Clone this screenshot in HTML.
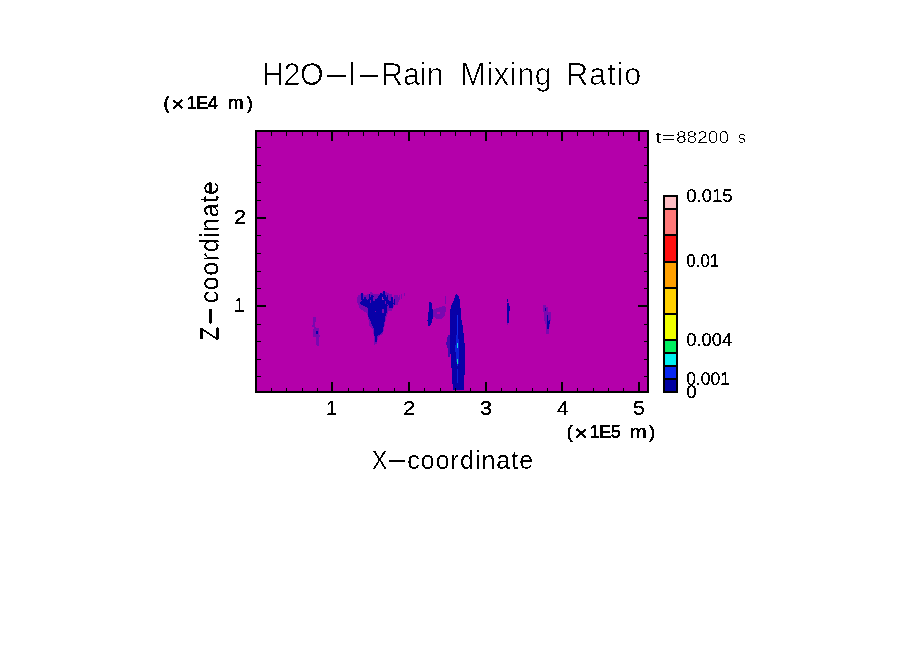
<!DOCTYPE html>
<html lang="en"><head><meta charset="utf-8"><title>H2O-l-Rain Mixing Ratio</title>
<style>
html,body{margin:0;padding:0;background:#fff;}
body{width:904px;height:654px;overflow:hidden;}
svg{display:block;}
text{font-family:"Liberation Sans",sans-serif;fill:#000;}
.thin{font-weight:400;stroke:#fff;stroke-width:0.45px;}
.t23{font-weight:400;stroke:#fff;stroke-width:0.12px;}
.t16{font-weight:400;stroke:#fff;stroke-width:0.25px;}
.hv{font-weight:400;stroke:#000;stroke-width:0.2px;}
.hv2{font-weight:400;stroke:#000;stroke-width:0.55px;}
</style></head><body>
<svg width="904" height="654" viewBox="0 0 904 654">
<defs><filter id="cr" x="-10%" y="-30%" width="120%" height="160%" color-interpolation-filters="sRGB"><feColorMatrix type="matrix" values="0 0 0 0 0  0 0 0 0 0  0 0 0 0 0  -0.3333 -0.3333 -0.3333 1 0"/><feComponentTransfer><feFuncA type="discrete" tableValues="0 0 1 1 1"/></feComponentTransfer></filter><filter id="cb" x="-10%" y="-30%" width="120%" height="160%" color-interpolation-filters="sRGB"><feColorMatrix type="matrix" values="0 0 0 0 0  0 0 0 0 0  0 0 0 0 0  -0.3333 -0.3333 -0.3333 1 0"/><feComponentTransfer><feFuncA type="discrete" tableValues="0 1"/></feComponentTransfer></filter></defs>
<rect x="0" y="0" width="904" height="654" fill="#fff"/>
<rect x="255" y="130" width="394" height="263" fill="#000"/>
<rect x="257" y="132" width="390" height="259" fill="#B400AA"/>
<g shape-rendering="crispEdges">
<polygon points="390.3,294.4 392.2,294.4 392.2,301.4 390.3,301.4" fill="#7808B0"/>
<polygon points="394.2,294.9 397.5,294.9 397.5,304.9 394.2,304.9" fill="#7808B0"/>
<polygon points="392.7,299.9 394.7,299.9 394.7,303.9 392.7,303.9" fill="#7808B0"/>
<polygon points="398.5,295.4 399.7,295.4 399.7,299.9 398.5,299.9" fill="#7808B0"/>
<polygon points="400.9,294.4 402.2,294.4 402.2,298.7 400.9,298.7" fill="#7808B0"/>
<polygon points="404.0,293.4 404.8,293.4 404.8,296.1 404.0,296.1" fill="#7808B0"/>
<polygon points="396.7,296.9 398.7,296.9 398.7,301.9 396.7,301.9" fill="#7808B0"/>
<polygon points="356.5,297.9 358.9,294.9 361.9,293.4 364.9,294.9 369.9,293.9 370.9,291.5 373.9,293.9 378.8,293.9 383.8,291.5 386.8,292.5 389.8,293.9 390.3,300.9 393.7,302.9 394.2,304.9 391.7,311.3 388.3,311.3 387.3,314.8 385.8,319.8 384.8,324.8 383.8,329.7 382.8,334.2 378.3,336.7 376.8,343.6 374.4,344.6 373.9,336.7 372.9,329.7 368.9,325.8 368.4,318.8 366.9,312.8 364.4,311.8 359.9,308.4 357.0,301.9" fill="#7808B0"/>
<polygon points="360.4,301.9 362.9,299.9 364.9,296.9 366.9,299.9 369.9,298.9 371.4,294.9 373.4,295.9 374.9,299.9 377.8,297.9 378.8,294.9 382.8,293.9 384.8,293.4 386.3,296.9 388.3,297.9 388.8,302.4 389.8,300.9 392.2,300.9 393.7,302.9 392.2,307.9 389.3,307.9 388.8,304.9 387.3,305.9 386.8,311.8 385.3,316.8 384.3,322.8 383.3,328.7 382.3,332.7 379.8,334.7 377.3,335.7 376.8,341.7 374.9,342.2 374.4,334.7 373.4,327.7 371.4,323.8 369.9,319.8 368.4,316.8 367.9,311.8 367.4,307.4 363.9,305.9 360.4,304.4" fill="#0800A8"/>
<polygon points="381.6,297.4 384.0,297.4 384.0,299.7 381.6,299.7" fill="#A020B0"/>
<polygon points="374.9,310.6 376.0,310.6 376.0,312.0 374.9,312.0" fill="#7808B0"/>
<polygon points="382.3,308.7 383.8,308.7 383.8,312.6 382.3,312.6" fill="#7808B0"/>
<polygon points="373.1,296.9 374.5,296.9 374.5,300.9 373.1,300.9" fill="#7808B0"/>
<polygon points="369.5,299.9 370.5,299.9 370.5,303.4 369.5,303.4" fill="#7808B0"/>
<polygon points="376.0,298.9 377.0,298.9 377.0,302.4 376.0,302.4" fill="#7808B0"/>
<polygon points="387.0,296.9 388.0,296.9 388.0,304.9 387.0,304.9" fill="#7808B0"/>
<polygon points="385.0,301.4 386.0,301.4 386.0,303.9 385.0,303.9" fill="#7808B0"/>
<rect x="361.2" y="293.3" width="1.3" height="6.7" fill="#0800A8"/>
<rect x="364.2" y="296.6" width="1.3" height="5.4" fill="#0800A8"/>
<rect x="368.6" y="294" width="1.3" height="8.0" fill="#0800A8"/>
<rect x="372" y="294.6" width="1.3" height="6.4" fill="#0800A8"/>
<rect x="376" y="298.6" width="1.3" height="4.4" fill="#0800A8"/>
<rect x="379.7" y="293.3" width="2" height="5.3" fill="#0800A8"/>
<rect x="383" y="291.3" width="1.6" height="7.3" fill="#0800A8"/>
<rect x="386.6" y="294.6" width="1.3" height="9.4" fill="#0800A8"/>
<rect x="391" y="297.3" width="1.6" height="10.7" fill="#0800A8"/>
<rect x="394" y="299.3" width="1.3" height="5.3" fill="#0800A8"/>
<polygon points="313.3,316.5 315.9,316.5 315.9,321.2 314.6,325.2 315.9,327.8 318.6,328.5 318.6,334.4 319.9,335.8 318.6,338.4 318.6,345.7 316.6,345.7 315.9,339.8 315.9,337.1 313.0,336.4 313.0,331.1 313.9,327.1 312.0,326.5 313.3,322.5" fill="#7808B0"/>
<polygon points="315.9,331.1 317.9,331.1 317.9,333.8 315.9,333.8" fill="#0800A8"/>
<polygon points="432.6,310.2 440.2,306.8 445.3,306.0 446.1,310.2 444.4,316.1 441.9,318.6 436.0,318.6 432.6,316.1" fill="#7808B0"/>
<polygon points="436.5,312.2 440.2,311.6 440.2,314.2 436.5,314.6" fill="#B400AA"/>
<polygon points="429.3,301.8 431.3,301.8 432.3,308.5 433.2,311.1 432.6,318.6 431.0,324.5 428.1,326.7 427.4,320.3 428.4,313.6 428.9,306.8" fill="#0800A8"/>
<polygon points="445.3,295.9 446.1,295.9 446.1,303.5 445.3,303.5" fill="#7808B0"/>
<polygon points="447.8,335.4 449.8,335.4 449.8,357.3 448.3,357.3 447.8,348.9 446.1,343.8" fill="#4008B0"/>
<polygon points="456.2,293.4 459.0,296.8 460.0,301.8 460.7,310.2 461.2,318.6 462.9,327.0 463.7,335.4 464.6,343.8 464.9,352.2 465.1,360.6 465.1,369.0 464.1,379.1 463.7,390.0 452.8,390.0 452.3,379.1 451.6,369.0 451.1,360.6 450.3,352.2 449.8,343.8 449.5,335.4 449.8,327.0 450.0,318.6 450.3,310.2 451.1,306.0 454.0,300.1 455.0,295.9" fill="#0800A8"/>
<polygon points="456.8,315.3 457.7,315.3 457.9,335.4 456.8,335.4" fill="#1030F0"/>
<polygon points="456.0,335.4 458.0,335.4 459.0,342.1 459.2,355.6 458.4,365.7 457.0,365.7 456.0,358.9 455.3,348.9" fill="#0C20D8"/>
<polygon points="457.0,369.0 458.0,369.0 458.4,382.5 457.4,382.5" fill="#0C20D8"/>
<polygon points="456.8,343.0 457.9,343.0 457.9,348.0 456.8,348.0" fill="#10D8E8"/>
<polygon points="456.8,358.9 457.9,358.9 457.9,364.0 456.8,364.0" fill="#10E0B0"/>
<polygon points="506.8,298.8 507.9,298.8 507.9,302.0 506.8,302.0" fill="#0800A8"/>
<polygon points="506.8,303.3 508.8,303.3 509.7,307.0 509.7,309.8 509.0,312.5 509.0,322.6 507.0,322.6 507.0,312.5 506.5,307.9" fill="#0800A8"/>
<polygon points="507.0,322.6 507.9,322.6 507.9,325.4 507.0,325.4" fill="#7808B0"/>
<polygon points="543.2,305.2 546.0,305.2 546.4,307.0 547.8,307.0 547.8,312.1 550.6,312.5 551.0,317.1 550.1,323.5 549.2,329.0 548.7,333.6 546.4,333.6 546.0,329.0 545.5,323.5 544.1,319.9 544.1,312.5 543.2,311.6" fill="#7808B0"/>
<polygon points="545.0,307.9 546.1,307.9 546.1,310.7 545.0,310.7" fill="#0800A8"/>
<polygon points="546.9,315.3 548.0,315.3 548.3,321.7 549.6,320.3 549.6,324.4 548.7,325.4 548.5,329.0 547.3,329.0 547.1,321.7" fill="#0800A8"/>
</g>
<g fill="#000" shape-rendering="crispEdges">
<rect x="271" y="388" width="1" height="3"/>
<rect x="271" y="132" width="1" height="4"/>
<rect x="286" y="388" width="1" height="3"/>
<rect x="286" y="132" width="1" height="4"/>
<rect x="302" y="388" width="1" height="3"/>
<rect x="302" y="132" width="1" height="4"/>
<rect x="317" y="388" width="1" height="3"/>
<rect x="317" y="132" width="1" height="4"/>
<rect x="331" y="382" width="2" height="9"/>
<rect x="331" y="132" width="2" height="9"/>
<rect x="348" y="388" width="1" height="3"/>
<rect x="348" y="132" width="1" height="4"/>
<rect x="363" y="388" width="1" height="3"/>
<rect x="363" y="132" width="1" height="4"/>
<rect x="378" y="388" width="1" height="3"/>
<rect x="378" y="132" width="1" height="4"/>
<rect x="394" y="388" width="1" height="3"/>
<rect x="394" y="132" width="1" height="4"/>
<rect x="408" y="382" width="2" height="9"/>
<rect x="408" y="132" width="2" height="9"/>
<rect x="424" y="388" width="1" height="3"/>
<rect x="424" y="132" width="1" height="4"/>
<rect x="440" y="388" width="1" height="3"/>
<rect x="440" y="132" width="1" height="4"/>
<rect x="455" y="388" width="1" height="3"/>
<rect x="455" y="132" width="1" height="4"/>
<rect x="470" y="388" width="1" height="3"/>
<rect x="470" y="132" width="1" height="4"/>
<rect x="485" y="382" width="2" height="9"/>
<rect x="485" y="132" width="2" height="9"/>
<rect x="501" y="388" width="1" height="3"/>
<rect x="501" y="132" width="1" height="4"/>
<rect x="516" y="388" width="1" height="3"/>
<rect x="516" y="132" width="1" height="4"/>
<rect x="532" y="388" width="1" height="3"/>
<rect x="532" y="132" width="1" height="4"/>
<rect x="547" y="388" width="1" height="3"/>
<rect x="547" y="132" width="1" height="4"/>
<rect x="561" y="382" width="2" height="9"/>
<rect x="561" y="132" width="2" height="9"/>
<rect x="577" y="388" width="1" height="3"/>
<rect x="577" y="132" width="1" height="4"/>
<rect x="593" y="388" width="1" height="3"/>
<rect x="593" y="132" width="1" height="4"/>
<rect x="608" y="388" width="1" height="3"/>
<rect x="608" y="132" width="1" height="4"/>
<rect x="623" y="388" width="1" height="3"/>
<rect x="623" y="132" width="1" height="4"/>
<rect x="638" y="382" width="2" height="9"/>
<rect x="638" y="132" width="2" height="9"/>
<rect x="257" y="376" width="4" height="1"/>
<rect x="644" y="376" width="3" height="1"/>
<rect x="257" y="359" width="4" height="1"/>
<rect x="644" y="359" width="3" height="1"/>
<rect x="257" y="341" width="4" height="1"/>
<rect x="644" y="341" width="3" height="1"/>
<rect x="257" y="324" width="4" height="1"/>
<rect x="644" y="324" width="3" height="1"/>
<rect x="257" y="305" width="9" height="2"/>
<rect x="638" y="305" width="9" height="2"/>
<rect x="257" y="288" width="4" height="1"/>
<rect x="644" y="288" width="3" height="1"/>
<rect x="257" y="271" width="4" height="1"/>
<rect x="644" y="271" width="3" height="1"/>
<rect x="257" y="253" width="4" height="1"/>
<rect x="644" y="253" width="3" height="1"/>
<rect x="257" y="235" width="4" height="1"/>
<rect x="644" y="235" width="3" height="1"/>
<rect x="257" y="217" width="9" height="2"/>
<rect x="638" y="217" width="9" height="2"/>
<rect x="257" y="200" width="4" height="1"/>
<rect x="644" y="200" width="3" height="1"/>
<rect x="257" y="182" width="4" height="1"/>
<rect x="644" y="182" width="3" height="1"/>
<rect x="257" y="165" width="4" height="1"/>
<rect x="644" y="165" width="3" height="1"/>
<rect x="257" y="147" width="4" height="1"/>
<rect x="644" y="147" width="3" height="1"/>
</g>
<g shape-rendering="crispEdges">
<rect x="663" y="195" width="15" height="198" fill="#000"/>
<rect x="665" y="380" width="11" height="11" fill="#0000A0"/>
<rect x="665" y="367" width="11" height="11" fill="#0828F0"/>
<rect x="665" y="354" width="11" height="11" fill="#00F0F0"/>
<rect x="665" y="341" width="11" height="11" fill="#00F060"/>
<rect x="665" y="315" width="11" height="24" fill="#F0FF00"/>
<rect x="665" y="289" width="11" height="24" fill="#FFD000"/>
<rect x="665" y="263" width="11" height="24" fill="#FFA000"/>
<rect x="665" y="236" width="11" height="25" fill="#FF1010"/>
<rect x="665" y="210" width="11" height="24" fill="#FF7878"/>
<rect x="665" y="197" width="11" height="11" fill="#FFBEC4"/>
</g>
<text filter="url(#cr)" class="thin" font-size="30.5"><tspan x="261.98" y="85" textLength="61.82" lengthAdjust="spacing">H2O</tspan><tspan x="322.99" y="84.0" textLength="26.97" lengthAdjust="spacingAndGlyphs">-</tspan><tspan x="348.32" y="85">l</tspan><tspan x="355.85" y="84.0" textLength="26.85" lengthAdjust="spacingAndGlyphs">-</tspan><tspan x="380.98" y="85" textLength="62.70" lengthAdjust="spacing">Rain</tspan> <tspan x="460.24" y="85" textLength="91.59" lengthAdjust="spacing">Mixing</tspan> <tspan x="566.29" y="85" textLength="74.89" lengthAdjust="spacing">Ratio</tspan></text>
<text filter="url(#cb)" class="hv2" font-size="18"><tspan x="163.43" y="109">(</tspan><tspan font-size="21" x="171.64" y="110.8" textLength="12.44" lengthAdjust="spacingAndGlyphs">×</tspan><tspan x="186.78" y="109" textLength="30.98" lengthAdjust="spacing">1E4</tspan> <tspan x="228.02" y="109" textLength="15.54" lengthAdjust="spacingAndGlyphs">m</tspan><tspan x="246.63" y="109">)</tspan></text>
<text filter="url(#cr)" class="t16" font-size="16.7"><tspan x="654.85" y="143" textLength="7.00" lengthAdjust="spacingAndGlyphs">t</tspan><tspan x="661.38" y="143" textLength="13.88" lengthAdjust="spacingAndGlyphs">=</tspan><tspan x="675.95" y="143" textLength="53.14" lengthAdjust="spacingAndGlyphs">88200</tspan> <tspan x="737.61" y="143" textLength="8.55" lengthAdjust="spacingAndGlyphs">s</tspan></text>
<text filter="url(#cb)" class="hv" font-size="19.5"><tspan x="233.88" y="224" textLength="12.36" lengthAdjust="spacingAndGlyphs">2</tspan></text>
<text filter="url(#cb)" class="hv" font-size="19.5"><tspan x="233.78" y="312">1</tspan></text>
<text filter="url(#cb)" class="hv" font-size="19.5"><tspan x="325.90" y="415">1</tspan></text>
<text filter="url(#cb)" class="hv" font-size="19.5"><tspan x="402.92" y="415" textLength="12.23" lengthAdjust="spacingAndGlyphs">2</tspan></text>
<text filter="url(#cb)" class="hv" font-size="19.5"><tspan x="480.14" y="415" textLength="11.98" lengthAdjust="spacingAndGlyphs">3</tspan></text>
<text filter="url(#cb)" class="hv" font-size="19.5"><tspan x="556.90" y="415" textLength="11.53" lengthAdjust="spacingAndGlyphs">4</tspan></text>
<text filter="url(#cb)" class="hv" font-size="19.5"><tspan x="633.14" y="415" textLength="11.85" lengthAdjust="spacingAndGlyphs">5</tspan></text>
<text filter="url(#cb)" class="hv2" font-size="18"><tspan x="566.73" y="438">(</tspan><tspan font-size="21" x="574.51" y="439.8" textLength="13.39" lengthAdjust="spacingAndGlyphs">×</tspan><tspan x="589.49" y="438" textLength="31.40" lengthAdjust="spacing">1E5</tspan> <tspan x="629.89" y="438" textLength="16.87" lengthAdjust="spacingAndGlyphs">m</tspan><tspan x="649.00" y="438">)</tspan></text>
<text filter="url(#cr)" class="t23" font-size="25"><tspan x="371.88" y="469.1" textLength="15.18" lengthAdjust="spacingAndGlyphs">X</tspan><tspan x="386.00" y="467.7" textLength="22.32" lengthAdjust="spacingAndGlyphs">-</tspan><tspan x="407.22" y="469.1" textLength="125.87" lengthAdjust="spacing">coordinate</tspan></text>
<text filter="url(#cr)" class="t23" font-size="25" transform="translate(218.4,400) rotate(-90)"><tspan x="59.13" y="0" textLength="14.14" lengthAdjust="spacingAndGlyphs">Z</tspan><tspan x="73.24" y="-1.4" textLength="20.77" lengthAdjust="spacingAndGlyphs">-</tspan><tspan x="96.67" y="0" textLength="122.16" lengthAdjust="spacing">coordinate</tspan></text>
<text filter="url(#cb)" class="hv" font-size="18"><tspan x="686.23" y="202" textLength="46.43" lengthAdjust="spacingAndGlyphs">0.015</tspan></text>
<text filter="url(#cb)" class="hv" font-size="18"><tspan x="686.36" y="267" textLength="32.75" lengthAdjust="spacingAndGlyphs">0.01</tspan></text>
<text filter="url(#cb)" class="hv" font-size="18"><tspan x="686.23" y="346" textLength="46.04" lengthAdjust="spacingAndGlyphs">0.004</tspan></text>
<text filter="url(#cb)" class="hv" font-size="18"><tspan x="686.27" y="385" textLength="43.76" lengthAdjust="spacingAndGlyphs">0.001</tspan></text>
<text filter="url(#cb)" class="hv" font-size="18"><tspan x="686.28" y="398" textLength="10.52" lengthAdjust="spacingAndGlyphs">0</tspan></text>
</svg></body></html>
